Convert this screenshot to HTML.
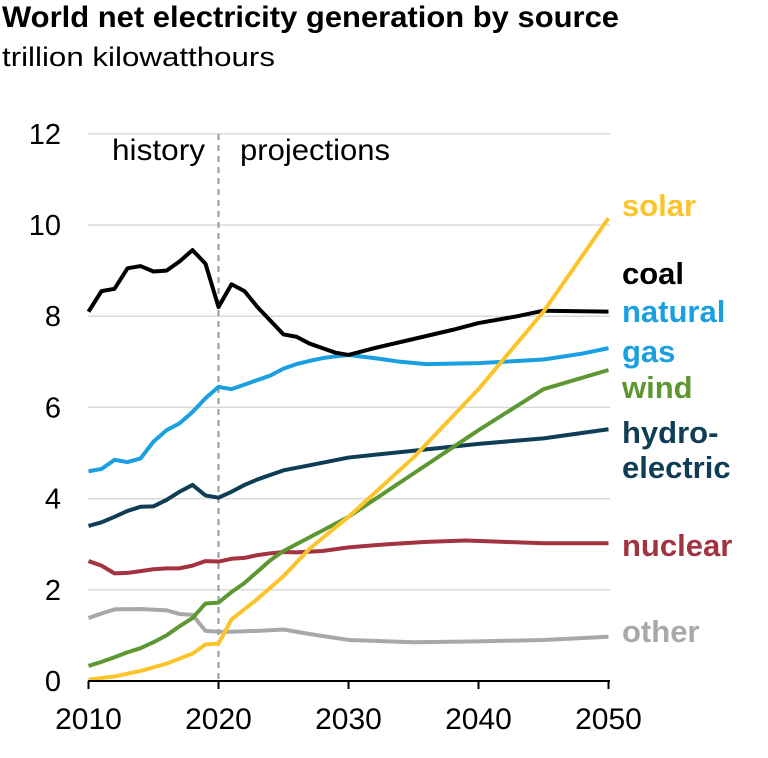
<!DOCTYPE html>
<html><head><meta charset="utf-8"><style>
body{margin:0;background:#fff;}
svg text{font-family:"Liberation Sans",Arial,sans-serif;}
</style></head><body>
<svg id="s" width="768" height="753" xmlns="http://www.w3.org/2000/svg">
<text x="2" y="27" font-size="30" font-weight="bold" fill="#000" textLength="617" lengthAdjust="spacingAndGlyphs">World net electricity generation by source</text>
<text x="2" y="66" font-size="27" fill="#000" textLength="273" lengthAdjust="spacingAndGlyphs">trillion kilowatthours</text>
<g id="grid"></g>
<line x1="218.5" y1="134" x2="218.5" y2="681" stroke="#999" stroke-width="2" stroke-dasharray="6,5"/>
<text x="112" y="160" font-size="30" fill="#000" textLength="93" lengthAdjust="spacingAndGlyphs">history</text>
<text x="240" y="160" font-size="30" fill="#000" textLength="150" lengthAdjust="spacingAndGlyphs">projections</text>
<g id="lines"></g>
<line x1="88" y1="681" x2="610" y2="681" stroke="#000" stroke-width="2"/>
<g font-size="31" font-weight="bold">
<text x="622" y="216" fill="#fcc42c">solar</text>
<text x="622" y="284" fill="#000">coal</text>
<text x="622" y="322" fill="#1a9fe0">natural</text>
<text x="622" y="362" fill="#1a9fe0">gas</text>
<text x="622" y="398" fill="#5d9732">wind</text>
<text x="622" y="443" fill="#0e3d55">hydro-</text>
<text x="622" y="478" fill="#0e3d55">electric</text>
<text x="622" y="556" fill="#a33340">nuclear</text>
<text x="622" y="642" fill="#a8a8a8">other</text>
</g>
</svg>
<script>
var ns="http://www.w3.org/2000/svg";
function X(y){return 88.5+(y-2010)*13;}
function Y(v){return 681-v*45.6;}
var g=document.getElementById('grid'),s=document.getElementById('s');
for(var v=2;v<=12;v+=2){var l=document.createElementNS(ns,'line');l.setAttribute('x1',88);l.setAttribute('x2',610);l.setAttribute('y1',Y(v));l.setAttribute('y2',Y(v));l.setAttribute('stroke','#d9d9d9');l.setAttribute('stroke-width',1.5);g.appendChild(l);}
for(var v=0;v<=12;v+=2){var t=document.createElementNS(ns,'text');t.setAttribute('x',61);t.setAttribute('y',Y(v)+10);t.setAttribute('text-anchor','end');t.setAttribute('font-size',29);t.textContent=v;g.appendChild(t);}
[2010,2020,2030,2040,2050].forEach(function(y){var l=document.createElementNS(ns,'line');l.setAttribute('x1',X(y));l.setAttribute('x2',X(y));l.setAttribute('y1',681);l.setAttribute('y2',689);l.setAttribute('stroke','#000');l.setAttribute('stroke-width',2);g.appendChild(l);
var t=document.createElementNS(ns,'text');t.setAttribute('x',X(y));t.setAttribute('y',729);t.setAttribute('text-anchor','middle');t.setAttribute('font-size',30);t.textContent=y;g.appendChild(t);});
var D=[
['#a8a8a8',[[2010,1.38],[2011,1.48],[2012,1.57],[2014,1.58],[2016,1.55],[2017,1.47],[2018,1.45],[2019,1.1],[2020,1.08],[2021,1.08],[2023,1.1],[2025,1.13],[2027,1.03],[2030,0.9],[2035,0.85],[2040,0.87],[2045,0.9],[2050,0.97]]],
['#a33340',[[2010,2.63],[2011,2.53],[2012,2.36],[2013,2.37],[2014,2.41],[2015,2.45],[2016,2.47],[2017,2.47],[2018,2.53],[2019,2.63],[2020,2.62],[2021,2.68],[2022,2.7],[2023,2.76],[2024,2.8],[2025,2.83],[2026,2.82],[2028,2.85],[2030,2.93],[2033,3.0],[2036,3.05],[2039,3.08],[2042,3.05],[2045,3.02],[2050,3.02]]],
['#0e3d55',[[2010,3.4],[2011,3.48],[2012,3.6],[2013,3.73],[2014,3.82],[2015,3.83],[2016,3.97],[2017,4.15],[2018,4.3],[2019,4.07],[2020,4.02],[2021,4.15],[2022,4.3],[2023,4.42],[2024,4.52],[2025,4.62],[2027,4.73],[2030,4.9],[2035,5.05],[2040,5.2],[2045,5.32],[2050,5.52]]],
['#1a9fe0',[[2010,4.6],[2011,4.65],[2012,4.85],[2013,4.8],[2014,4.88],[2015,5.25],[2016,5.5],[2017,5.65],[2018,5.9],[2019,6.2],[2020,6.45],[2021,6.4],[2022,6.5],[2023,6.6],[2024,6.7],[2025,6.85],[2026,6.95],[2027,7.02],[2028,7.08],[2029,7.12],[2030,7.15],[2032,7.08],[2034,7.0],[2036,6.95],[2040,6.97],[2045,7.05],[2048,7.18],[2050,7.3]]],
['#000000',[[2010,8.1],[2011,8.55],[2012,8.6],[2013,9.05],[2014,9.1],[2015,8.98],[2016,9.0],[2017,9.2],[2018,9.45],[2019,9.15],[2020,8.2],[2021,8.7],[2022,8.55],[2023,8.2],[2024,7.9],[2025,7.6],[2026,7.55],[2027,7.4],[2028,7.3],[2029,7.2],[2030,7.15],[2032,7.3],[2035,7.5],[2038,7.7],[2040,7.85],[2043,8.0],[2045,8.12],[2050,8.1]]],
['#5d9732',[[2010,0.33],[2011,0.42],[2012,0.52],[2013,0.63],[2014,0.72],[2015,0.85],[2016,1.0],[2017,1.2],[2018,1.38],[2019,1.7],[2020,1.72],[2021,1.95],[2022,2.15],[2023,2.4],[2024,2.65],[2025,2.85],[2030,3.6],[2035,4.55],[2040,5.5],[2045,6.4],[2050,6.82]]],
['#fcc42c',[[2010,0.03],[2012,0.1],[2014,0.22],[2016,0.38],[2018,0.6],[2019,0.8],[2020,0.82],[2021,1.35],[2023,1.8],[2025,2.3],[2027,2.9],[2030,3.6],[2035,4.9],[2040,6.4],[2045,8.1],[2050,10.15]]]
];
var L=document.getElementById('lines');
D.forEach(function(d){var p=document.createElementNS(ns,'polyline');p.setAttribute('points',d[1].map(function(q){return X(q[0])+','+Y(q[1]);}).join(' '));p.setAttribute('fill','none');p.setAttribute('stroke',d[0]);p.setAttribute('stroke-width',4);p.setAttribute('stroke-linejoin','round');L.appendChild(p);});
</script>
</body></html>
